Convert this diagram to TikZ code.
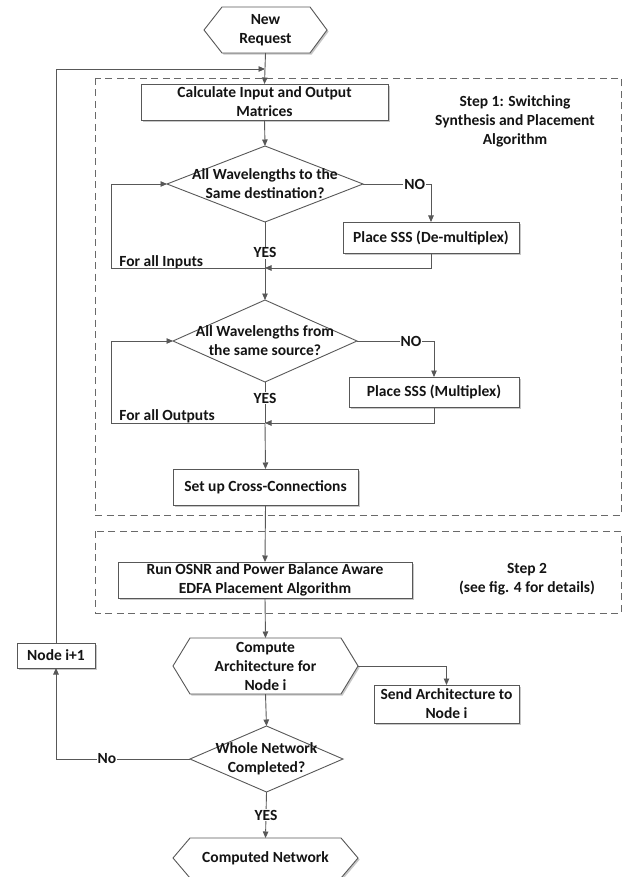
\documentclass[tikz,border=0pt]{standalone}
\usepackage{fontspec}
\setmainfont{Carlito}
\usetikzlibrary{arrows.meta,calc,shapes.geometric,shadows}
\definecolor{ln}{RGB}{88,88,88}
\definecolor{tx}{RGB}{20,20,20}
\newcommand{\fsz}{\fontsize{15.5}{19}\selectfont\bfseries}
\begin{document}
\begin{tikzpicture}[x=1pt,y=-1pt,
  line width=0.9pt,
  every node/.style={text=tx, font=\fsz},
  shd/.style={drop shadow={shadow xshift=1.6pt, shadow yshift=-1.6pt, opacity=0.22, fill=black}},
  box/.style={draw=ln, fill=white, shd, inner sep=1pt, align=center, outer sep=0pt},
  ghost/.style={inner sep=0pt, outer sep=0pt, align=center},
  dia/.style={diamond, draw=ln, fill=white, inner sep=0pt, outer sep=0pt},
  hexa/.style={draw=ln, fill=white, shd},
  arr/.style={draw=ln, -{Triangle[length=6.5pt,width=5.5pt]}},
  con/.style={draw=ln},
  lbl/.style={fill=white, inner sep=1pt},
  dashbox/.style={draw=ln!90, dash pattern=on 7pt off 4.5pt, line width=0.9pt},
  txt/.style={align=center, inner sep=0pt}
]
\useasboundingbox (0,0) rectangle (623,877);

% dashed frames
\draw[dashbox] (95,78) rectangle (621,515);
\draw[dashbox] (95,531) rectangle (621,613);

% hexagon: New Request
\node[ghost, minimum width=123, minimum height=46] (nr) at (265.5,30) {};
\draw[hexa] (nr.west) -- ($(nr.north west)+(18,0)$) -- ($(nr.north east)+(-17,0)$) -- (nr.east) -- ($(nr.south east)+(-17,0)$) -- ($(nr.south west)+(18,0)$) -- cycle;
\node[txt] (nrt) at (nr) {New\\Request};

% boxes
\node[box, minimum width=247, minimum height=36] (calc) at (264.5,102) {Calculate Input and Output\\Matrices};
\node[txt] (s1) at (515,121) {Step 1: Switching\\Synthesis and Placement\\Algorithm};

\node[dia, minimum width=196, minimum height=76] (d1) at (265,184) {};
\node[txt] (d1t) at (265,184) {All Wavelengths to the\\Same destination?};

\node[box, minimum width=176, minimum height=31] (demux) at (431,237.5) {Place SSS (De-multiplex)};

\node[dia, minimum width=184, minimum height=82] (d2) at (265,341) {};
\node[txt] (d2t) at (265,341) {All Wavelengths from\\the same source?};

\node[box, minimum width=170, minimum height=30] (mux) at (434,392) {Place SSS (Multiplex)};

\node[box, minimum width=185, minimum height=36] (cross) at (265.5,487) {Set up Cross-Connections};

\node[box, minimum width=294, minimum height=36] (run) at (265,580) {Run OSNR and Power Balance Aware\\EDFA Placement Algorithm};
\node[txt] (s2) at (527,579) {Step 2\\(see fig. 4 for details)};

% hexagon: Compute Architecture
\node[ghost, minimum width=185, minimum height=56] (cmp) at (265.5,666) {};
\draw[hexa] (cmp.west) -- ($(cmp.north west)+(17,0)$) -- ($(cmp.north east)+(-17,0)$) -- (cmp.east) -- ($(cmp.south east)+(-17,0)$) -- ($(cmp.south west)+(17,0)$) -- cycle;
\node[txt] (cmpt) at (cmp) {Compute\\Architecture for\\Node i};

\node[box, minimum width=145, minimum height=38] (send) at (446.5,704) {Send Architecture to\\Node i};

\node[box, minimum width=78, minimum height=25] (nip) at (56,655.5) {Node i+1};

\node[dia, minimum width=153, minimum height=66] (d3) at (266.5,759) {};
\node[txt] (d3t) at (266.5,759) {Whole Network\\Completed?};

% hexagon: Computed Network
\node[ghost, minimum width=185, minimum height=40] (cn) at (265.5,858) {};
\draw[hexa] (cn.west) -- ($(cn.north west)+(17,0)$) -- ($(cn.north east)+(-17,0)$) -- (cn.east) -- ($(cn.south east)+(-17,0)$) -- ($(cn.south west)+(17,0)$) -- cycle;
\node[txt] (cnt) at (cn) {Computed Network};

% free text
\node[txt, anchor=west] (fi) at (119,262) {For all Inputs};
\node[txt, anchor=west] (fo) at (119,416) {For all Outputs};

% junction coordinates
\coordinate (j0) at (265,69);
\coordinate (m1) at (265,268);
\coordinate (l1) at (111,268);
\coordinate (m2) at (265,423);
\coordinate (l2) at (111,423);
\coordinate (n1) at (56,759);

% connectors
\draw[arr] (nr.south) -- (calc.north);
\draw[arr] (nip.north) |- (j0);
\draw[arr] (calc.south) -- (d1.north);
\draw[arr] (d1.east) -| node[lbl, pos=0.38] {NO} (demux.north);
\draw[con] (d1.south) -- node[lbl, pos=0.67] {YES} (m1);
\draw[arr] (demux.south) |- (m1);
\draw[arr] (m1) -- (l1) |- (d1.west);
\draw[arr] (m1) -- (d2.north);
\draw[arr] (d2.east) -| node[lbl, pos=0.35] {NO} (mux.north);
\draw[con] (d2.south) -- node[lbl, pos=0.39] {YES} (m2);
\draw[arr] (mux.south) |- (m2);
\draw[arr] (m2) -- (l2) |- (d2.west);
\draw[arr] (m2) -- (cross.north);
\draw[arr] (cross.south) -- (run.north);
\draw[arr] (run.south) -- (cmp.north);
\draw[arr] (cmp.east) -| (send.north);
\draw[arr] (cmp.south) -- (d3.north);
\draw[arr] (d3.west) -- node[lbl, pos=0.62] {No} (n1) -- (nip.south);
\draw[arr] (d3.south) -- node[lbl, pos=0.5] {YES} (cn.north);
\end{tikzpicture}
\end{document}
